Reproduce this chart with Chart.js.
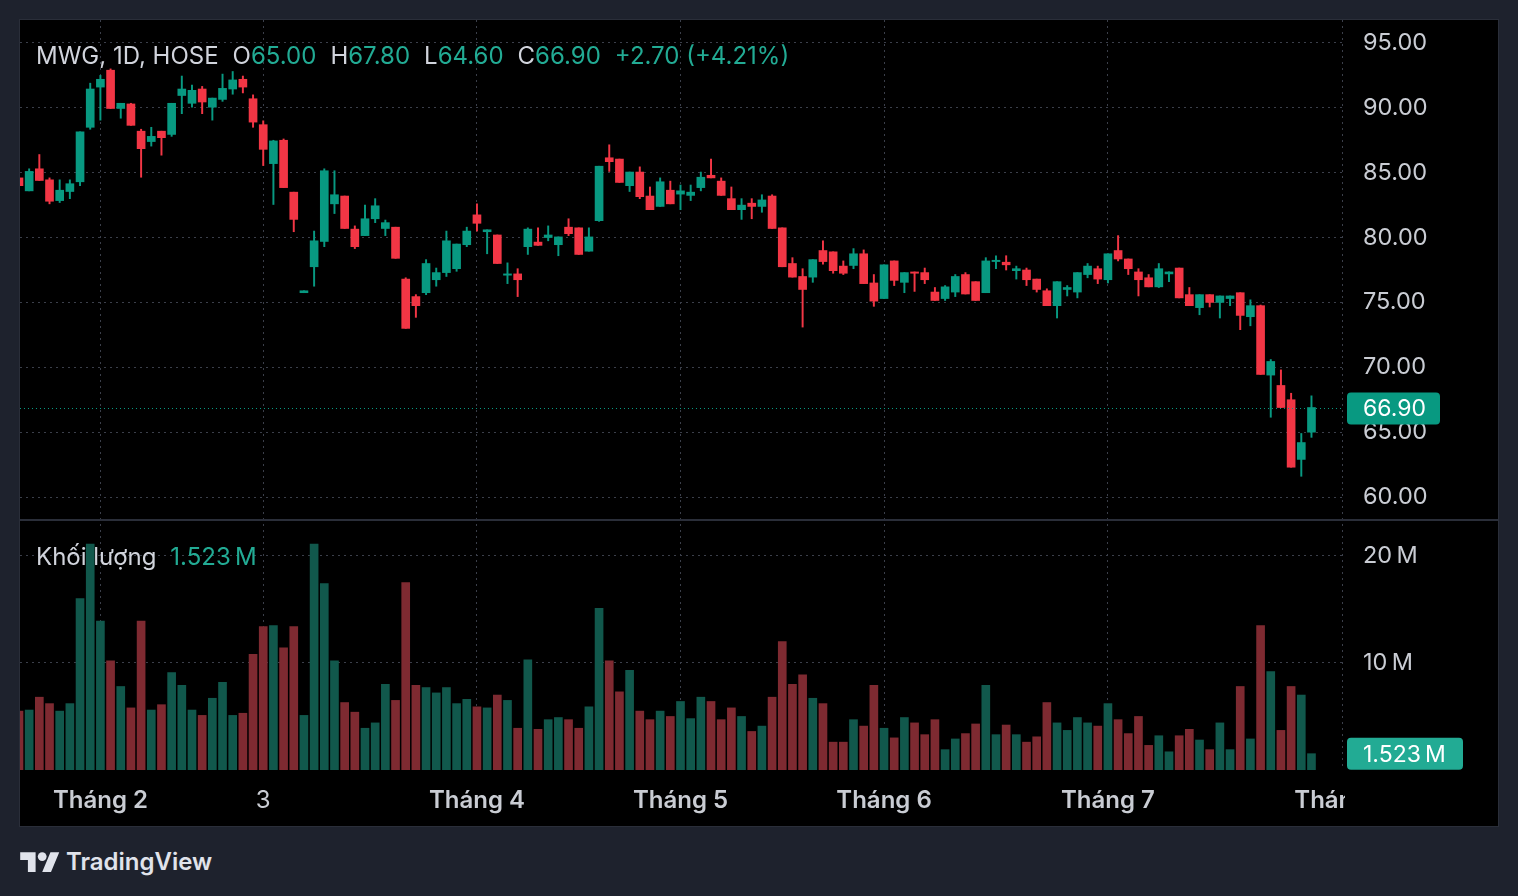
<!DOCTYPE html>
<html>
<head>
<meta charset="utf-8">
<script src="https://cdn.jsdelivr.net/npm/chart.js@4.4.1/dist/chart.umd.min.js"></script>
<style>
  body { margin: 0; background: #1e222d; width: 1518px; height: 896px; overflow: hidden; font-family: Inter, "Noto Sans", sans-serif; }
  #frame { position: absolute; left: 19px; top: 19px; width: 1478px; height: 806px; background: #000; border: 1px solid #2a2e39; }
  #frame canvas { position: absolute; left: 0; top: 0; }
  .legend { position: absolute; left: 16px; font-size: 24px; line-height: 28px; color: #d1d4dc; white-space: nowrap; }
  .legend span { margin-left: 14px; }
  .legend span:first-child { margin-left: 0; }
  .legend b { font-weight: normal; color: #22ab94; }
  #brand { position: absolute; left: 20px; top: 846px; height: 30px; display: flex; align-items: center; color: #e0e3eb; font-size: 24px; font-weight: 600; }
  #brand svg { margin-right: 6px; }
</style>
</head>
<body>
<div id="frame">
  <canvas id="chart" width="1478" height="806"></canvas>
  <div class="legend" style="top:22px">
    <span>MWG, 1D, HOSE</span><span>O<b>65.00</b></span><span>H<b>67.80</b></span><span>L<b>64.60</b></span><span>C<b>66.90</b></span><span><b>+2.70 (+4.21%)</b></span>
  </div>
  <div class="legend" style="top:523px">
    <span>Khối lượng</span><span><b>1.523&#8201;M</b></span>
  </div>
</div>
<div id="brand">
  <svg width="40" height="22" viewBox="0 0 36 20"><path fill="#e0e3eb" d="M14 20H7V9H0V2h14v18zM28 20h-8l7.5-18h8L28 20z"/><circle fill="#e0e3eb" cx="20" cy="6" r="4"/></svg>
  TradingView
</div>
<script>
// daily candles, index 0 = first visible session
const opens  = [84.6,83.6,85.3,84.45,82.85,83.55,84.3,88.5,91.6,92.9,89.95,90.3,88.2,87.4,88.2,87.95,90.95,90.35,91.45,90.05,
                90.65,91.45,92.2,90.7,88.7,85.7,87.5,83.5,75.75,77.75,79.7,82.6,83.2,80.65,80.15,81.45,80.7,80.8,76.8,75.45,
                75.75,76.75,77.3,77.6,79.45,81.75,80.45,80.2,77.1,77.2,79.3,79.65,80.0,79.45,80.8,80.75,78.95,81.3,86.15,86.05,
                84.0,85.05,83.2,82.4,83.65,83.35,83.25,83.85,84.8,84.35,83.0,82.15,82.65,82.4,83.2,80.75,78.0,77.0,76.95,79.0,
                78.9,77.8,77.85,78.75,76.5,75.3,78.2,76.55,77.35,77.3,75.8,75.3,75.8,77.15,76.6,75.75,78.15,78.1,77.45,77.5,
                76.8,75.9,74.75,76.0,75.8,77.15,77.6,76.75,79.0,78.35,77.35,76.9,76.2,77.2,77.65,75.6,74.6,75.6,75.0,75.3,
                75.75,73.9,74.75,69.4,68.6,67.5,62.9,65.0];
const highs  = [84.7,85.3,86.4,84.6,84.45,84.45,88.15,91.9,92.5,93.0,90.35,90.35,88.35,88.5,88.2,90.35,92.45,91.75,91.65,90.75,
                92.6,92.8,92.45,91.0,89.0,87.5,87.6,83.5,75.9,80.5,85.3,85.15,83.2,80.9,82.5,83.0,81.35,80.8,76.9,75.6,
                78.3,77.65,80.5,79.5,80.8,82.6,80.6,80.2,78.05,77.6,80.75,80.75,80.9,80.05,81.45,80.75,80.75,85.5,87.15,86.05,
                85.05,85.45,83.9,84.6,84.35,84.05,84.05,85.05,86.05,84.6,83.9,83.0,83.0,83.3,83.3,80.75,78.45,77.6,78.3,79.75,
                78.9,78.2,79.15,79.05,77.15,77.9,78.2,77.3,77.35,77.65,76.15,76.3,77.15,77.3,76.6,78.45,78.6,78.6,77.8,77.65,
                76.8,76.05,76.6,76.3,77.3,78.0,77.8,78.75,80.15,78.35,77.6,77.15,78.0,77.35,77.65,76.15,75.6,75.6,75.5,75.5,
                75.75,75.2,74.8,70.6,69.8,68.0,64.9,67.8];
const lows   = [83.9,83.6,84.4,82.6,82.7,83.0,84.0,88.35,89.05,89.95,89.2,88.65,84.65,87.05,86.35,87.8,89.55,90.05,89.55,89.05,
                90.5,91.05,91.15,88.5,85.55,82.55,83.85,80.45,75.75,76.25,79.3,81.85,80.7,79.15,80.15,81.15,80.15,78.4,73.0,73.85,
                75.6,76.25,77.0,77.4,79.3,80.5,78.75,78.0,76.45,75.45,78.7,79.4,79.75,78.6,80.15,78.7,78.95,81.25,85.1,84.25,
                83.55,83.0,82.15,82.4,82.6,82.15,82.85,83.6,84.6,83.25,82.15,81.4,81.45,81.95,80.7,77.75,76.95,73.1,76.55,77.95,
                77.25,77.15,77.6,76.45,74.7,75.3,76.3,75.75,75.85,76.45,75.15,75.15,75.45,75.65,75.15,75.75,77.6,77.5,76.8,76.3,
                75.8,74.75,73.8,75.5,75.35,76.9,76.45,76.5,78.2,77.15,75.5,76.2,76.15,76.6,75.35,74.75,74.05,74.65,73.8,74.75,
                72.9,73.2,69.45,66.15,66.9,62.3,61.6,64.6];
const closes = [84.0,85.1,84.4,82.8,83.65,84.15,88.15,91.45,92.2,89.95,90.35,88.65,86.85,87.8,87.7,90.35,91.45,91.35,90.45,90.75,
                91.5,92.15,91.6,88.9,86.8,87.45,83.85,81.4,75.9,79.75,85.15,83.3,80.7,79.3,81.45,82.45,81.15,78.4,73.0,74.75,
                78.0,77.3,79.75,79.5,80.5,81.1,80.6,78.0,77.2,76.75,80.65,79.4,80.2,80.05,80.3,78.7,80.05,85.5,85.85,84.25,
                85.05,83.15,82.15,84.3,82.6,83.6,83.5,84.65,84.6,83.25,82.15,82.5,82.4,82.9,80.7,77.75,76.95,76.0,78.3,78.15,
                77.45,77.25,78.75,76.45,75.1,77.9,76.7,77.3,77.25,76.75,75.15,76.2,77.0,75.65,75.15,78.2,78.25,77.9,77.6,76.75,
                76.0,74.75,76.6,76.15,77.3,77.8,76.8,78.75,78.35,77.6,76.75,76.2,77.6,77.35,75.35,74.75,75.6,75.0,75.5,75.5,
                74.0,74.75,69.45,70.45,66.9,62.3,64.2,66.9];
// volume, millions of shares
const volumes = [5.5,5.6,6.8,6.2,5.5,6.2,16.0,21.1,13.9,10.2,7.8,5.8,13.9,5.6,6.1,9.1,7.9,5.6,5.1,6.7,
                 8.2,5.1,5.3,10.8,13.4,13.5,11.4,13.4,5.1,21.1,17.4,10.2,6.3,5.4,3.9,4.4,8.0,6.5,17.5,7.9,
                 7.7,7.2,7.7,6.2,6.6,5.9,5.8,7.0,6.5,3.9,10.3,3.8,4.7,4.9,4.7,3.9,5.9,15.1,10.2,7.3,
                 9.3,5.5,4.7,5.5,5.0,6.4,4.8,6.8,6.4,4.7,5.8,5.0,3.6,4.1,6.8,12.0,8.0,8.9,6.7,6.2,
                 2.6,2.6,4.7,4.1,7.9,3.9,3.0,4.9,4.4,3.3,4.7,1.9,2.9,3.4,4.3,7.9,3.3,4.2,3.3,2.6,
                 3.1,6.3,4.4,3.7,4.9,4.4,4.1,6.2,4.7,3.4,5.0,2.3,3.2,1.7,3.2,3.8,2.8,1.9,4.4,1.9,
                 7.8,2.9,13.5,9.2,3.7,7.8,7.0,1.523];
// month boundaries (session index) and their labels
const monthIdx    = [8, 24, 45, 65, 85, 107, 130];
const monthLabels = ['Tháng 2', '3', 'Tháng 4', 'Tháng 5', 'Tháng 6', 'Tháng 7', 'Tháng 8'];
const priceTicks  = [60, 65, 70, 75, 80, 85, 90, 95];
const volTicks    = [10, 20];

const upColor = '#089981', downColor = '#f23645';
const upVol = '#11584c', downVol = '#7e2a31';
const gridColor = '#3b3f4a';
const textColor = '#c9ccd3';

const last = closes.length - 1;
const idx = closes.map((c, i) => i);
const isUp = closes.map((c, i) => c >= opens[i]);
const candleColors = isUp.map(u => u ? upColor : downColor);

Chart.defaults.font.family = 'Inter';
Chart.defaults.font.size = 23;
Chart.defaults.color = textColor;

const overlay = {
    id: 'overlay',
    afterDraw(chart) {
        const ctx = chart.ctx, a = chart.chartArea;
        const y = chart.scales.y, yv = chart.scales.yv;
        ctx.save();
        // separator between price and volume panes
        ctx.strokeStyle = '#2a2e39';
        ctx.lineWidth = 2;
        ctx.beginPath();
        ctx.moveTo(0, yv.top);
        ctx.lineTo(chart.width, yv.top);
        ctx.stroke();
        // time labels stop at the price scale
        ctx.fillStyle = '#000';
        ctx.fillRect(a.right + 3, a.bottom + 1, chart.width, chart.height);

        // last price line
        const py = Math.round(y.getPixelForValue(closes[last])) + 0.5;
        ctx.strokeStyle = upColor;
        ctx.lineWidth = 1;
        ctx.setLineDash([1, 3]);
        ctx.beginPath();
        ctx.moveTo(a.left, py);
        ctx.lineTo(a.right, py);
        ctx.stroke();
        ctx.setLineDash([]);

        ctx.font = '23px Inter';
        ctx.textBaseline = 'middle';
        ctx.textAlign = 'left';
        // last price label
        ctx.fillStyle = upColor;
        ctx.beginPath();
        ctx.roundRect(a.right + 5, py - 16, 93, 32, 4);
        ctx.fill();
        ctx.fillStyle = '#fff';
        ctx.fillText(closes[last].toFixed(2), a.right + 21, py + 1);
        // last volume label
        const vy = yv.getPixelForValue(volumes[last]);
        ctx.fillStyle = '#22ab94';
        ctx.beginPath();
        ctx.roundRect(a.right + 5, vy - 16, 116, 32, 4);
        ctx.fill();
        ctx.fillStyle = '#fff';
        ctx.fillText(volumes[last].toFixed(3) + '\u2009M', a.right + 21, vy + 1);
        ctx.restore();
    }
};

const noPad = s => { s.paddingTop = 0; s.paddingBottom = 0; s.paddingLeft = 0; s.paddingRight = 0; };

new Chart(document.getElementById('chart'), {
    type: 'bar',
    data: {
        datasets: [{
            label: 'wick',
            data: idx.map(i => ({ x: i, y: [lows[i], highs[i]] })),
            yAxisID: 'y',
            backgroundColor: candleColors,
            barThickness: 1.3,
            grouped: false
        }, {
            label: 'body',
            data: idx.map(i => ({ x: i, y: [opens[i], closes[i]] })),
            yAxisID: 'y',
            backgroundColor: candleColors,
            barThickness: 8,
            minBarLength: 1,
            grouped: false
        }, {
            label: 'volume',
            data: idx.map(i => ({ x: i, y: volumes[i] })),
            yAxisID: 'yv',
            backgroundColor: isUp.map(u => u ? upVol : downVol),
            barThickness: 8,
            grouped: false
        }]
    },
    options: {
        responsive: false,
        animation: false,
        layout: { padding: 0 },
        plugins: { legend: { display: false }, tooltip: { enabled: false } },
        scales: {
            x: {
                type: 'linear',
                min: 0.1,
                max: 130,
                offset: false,
                afterBuildTicks: s => { s.ticks = monthIdx.map(v => ({ value: v })); },
                afterFit: s => { noPad(s); s.height = 56; },
                grid: { color: gridColor, offset: false, drawTicks: false },
                border: { display: false, dash: [2, 4] },
                ticks: {
                    autoSkip: false,
                    maxRotation: 0,
                    padding: 16,
                    color: textColor,
                    callback: (v, i) => monthLabels[i],
                    font: c => ({ size: 24, weight: monthLabels[c.index] === '3' ? 'normal' : '600' })
                }
            },
            y: {
                position: 'right',
                stack: 'pane',
                stackWeight: 2,
                min: 58.23,
                max: 96.77,
                afterBuildTicks: s => { s.ticks = priceTicks.map(v => ({ value: v })); },
                afterFit: s => { noPad(s); s.width = 156; },
                grid: { color: gridColor, drawTicks: false },
                border: { display: false, dash: [2, 4] },
                ticks: { padding: 21, font: { size: 23.5 }, callback: v => v.toFixed(2) }
            },
            yv: {
                position: 'right',
                stack: 'pane',
                stackWeight: 1,
                min: 0,
                max: 23.35,
                afterBuildTicks: s => { s.ticks = volTicks.map(v => ({ value: v })); },
                afterFit: s => { noPad(s); s.width = 156; },
                grid: { color: gridColor, drawTicks: false },
                border: { display: false, dash: [2, 4] },
                ticks: { padding: 21, font: { size: 23.5 }, callback: v => v + '\u2009M' }
            }
        }
    },
    plugins: [overlay]
});
</script>
</body>
</html>
